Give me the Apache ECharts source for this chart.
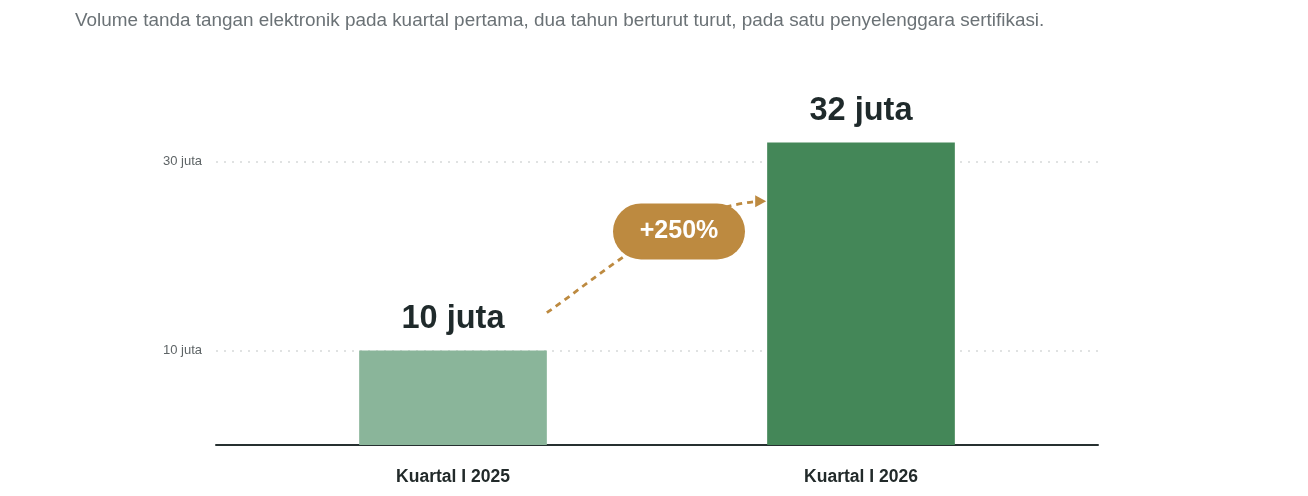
<!DOCTYPE html>
<html>
<head>
<meta charset="utf-8">
<script src="https://cdn.jsdelivr.net/npm/echarts@6/dist/echarts.min.js"></script>
<style>
  html, body { margin: 0; padding: 0; background: #fff; }
  #chart { width: 1308px; height: 496px; }
</style>
</head>
<body>
<div id="chart"></div>
<script>
var categories = ['Kuartal I 2025', 'Kuartal I 2026'];
var volumes = [10, 32];           // juta
var barColors = ['#8ab59a', '#448758'];
var tickValues = [10, 30];
var growthLabel = '+250%';

var font = '"Liberation Sans", Arial, Helvetica, sans-serif';
var myChart = echarts.init(document.getElementById('chart'));

var yCommon = { type: 'value', min: 0, max: 40, interval: 10,
    axisLine: { show: false }, axisTick: { show: false }, splitLine: { show: false } };

var option = {
    animation: false,
    title: {
        text: 'Volume tanda tangan elektronik pada kuartal pertama, dua tahun berturut turut, pada satu penyelenggara sertifikasi.',
        left: 75,
        top: 11,
        padding: 0,
        textStyle: { fontFamily: font, fontSize: 18.9, fontWeight: 'normal', color: '#6b7276' }
    },
    grid: [
        { left: 216, right: 210, top: 67, bottom: 51 },   // full frame: baseline, gridlines, y labels
        { left: 249, right: 243, top: 67, bottom: 51 }    // bars
    ],
    xAxis: [
        {
            type: 'category', gridIndex: 0, data: categories,
            axisLine: { lineStyle: { color: '#263030', width: 2 } },
            axisTick: { show: false },
            axisLabel: { show: false }
        },
        {
            type: 'category', gridIndex: 1, data: categories,
            axisLine: { show: false },
            axisTick: { show: false },
            axisLabel: {
                margin: 23,
                fontFamily: font, fontSize: 17.5, fontWeight: 'bold', color: '#222a2a'
            }
        }
    ],
    yAxis: [
        Object.assign({}, yCommon, {
            gridIndex: 0,
            axisLabel: {
                margin: 14,
                fontFamily: font, fontSize: 13, color: '#5e6466',
                formatter: function (v) {
                    return tickValues.indexOf(v) >= 0 ? v + ' juta' : '';
                }
            }
        }),
        Object.assign({}, yCommon, { gridIndex: 1, axisLabel: { show: false } })
    ],
    series: [
        {
            type: 'line', xAxisIndex: 0, yAxisIndex: 0, data: [],
            z: 1,
            markLine: {
                silent: true,
                symbol: 'none',
                z: 1,
                label: { show: false },
                lineStyle: { color: '#d6d9d9', type: [2, 6], width: 1.5 },
                data: tickValues.map(function (t) { return { yAxis: t }; })
            }
        },
        {
            type: 'bar', xAxisIndex: 1, yAxisIndex: 1,
            barWidth: '46%',
            z: 3,
            data: volumes.map(function (v, i) {
                return { value: v, itemStyle: { color: barColors[i] } };
            }),
            label: {
                show: true,
                position: 'top',
                distance: 15,
                formatter: '{c} juta',
                fontFamily: font, fontSize: 32.5, fontWeight: 'bold', color: '#1f2a2b'
            }
        }
    ]
};
myChart.setOption(option);

// growth arrow + badge, anchored on the bars via the axes
var c0 = myChart.convertToPixel({ seriesIndex: 1 }, [0, 14]);
var c1 = myChart.convertToPixel({ seriesIndex: 1 }, [1, 25.8]);
var half = (c1[0] - c0[0]) * 0.46 / 2;
var sx = c0[0] + half, sy = c0[1];
var ex = c1[0] - half - 2, ey = c1[1];
var bx = (sx + ex) / 2 + 23, by = myChart.convertToPixel({ seriesIndex: 1 }, [0, 22.6])[1];
var gold = '#bd8a40';

myChart.setOption({
    graphic: [
        {
            type: 'bezierCurve',
            z: 10,
            shape: {
                x1: sx, y1: sy,
                cpx1: sx + 60, cpy1: sy - 42,
                cpx2: sx + 125, cpy2: ey + 8,
                x2: ex - 6, y2: ey
            },
            style: { stroke: gold, lineWidth: 2.8, lineDash: [6, 5], fill: null }
        },
        {
            type: 'polygon',
            z: 11,
            shape: { points: [[ex - 10, ey - 6], [ex + 1, ey], [ex - 10, ey + 6]] },
            style: { fill: gold }
        },
        {
            type: 'rect',
            z: 12,
            shape: { x: bx - 66, y: by - 28, width: 132, height: 56, r: 28 },
            style: { fill: gold }
        },
        {
            type: 'text',
            z: 13,
            x: bx, y: by,
            style: {
                text: growthLabel,
                fill: '#ffffff',
                font: 'bold 25px ' + font,
                align: 'center',
                verticalAlign: 'middle'
            }
        }
    ]
});
</script>
</body>
</html>
